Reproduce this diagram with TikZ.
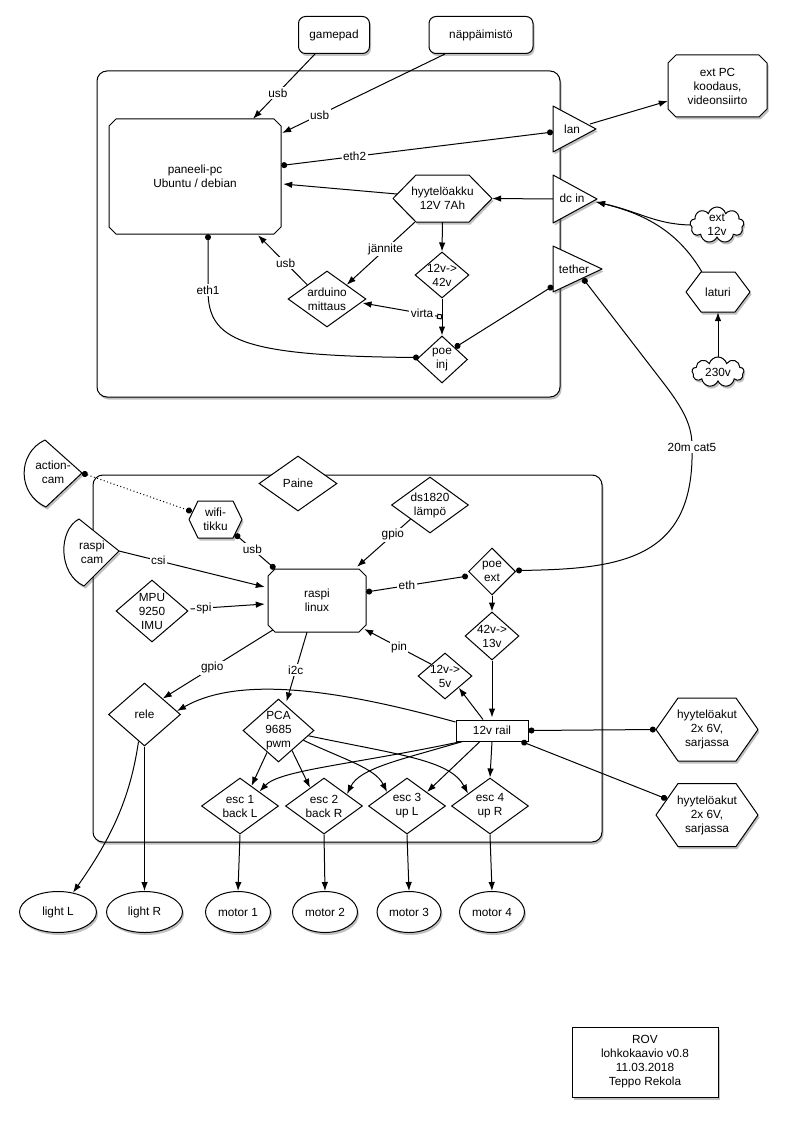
\documentclass[tikz,border=0pt]{standalone}
\usepackage{fontspec}
\setmainfont{Liberation Sans}
\usetikzlibrary{shapes.geometric,shapes.misc,shapes.symbols,arrows.meta,shadows,calc}
\tikzset{
  lw/.style={line width=1pt},
  txt/.style={font=\fontsize{11.8}{14}\selectfont, align=center, inner sep=1pt},
  shd/.style={drop shadow={shadow xshift=1.5pt, shadow yshift=-2.5pt, opacity=0.35, fill=black!70}},
  noshd/.style={},
  frame/.style={draw, lw, fill=white, rounded corners=10pt, shd, inner sep=0},
  rbox/.style={txt, draw, lw, fill=white, rounded corners=7pt, shd, inner sep=0},
  dia/.style={draw, lw, diamond, fill=white, inner sep=0},
  ell/.style={txt, draw, lw, ellipse, fill=white, shd, inner sep=0},
  cld/.style={draw, lw, cloud, cloud puffs=9, cloud ignores aspect, fill=white, shd, inner sep=0},
  tri/.style={lw, fill=white, shd, line join=round},
  hexbox/.style={txt, inner sep=0},
  arr/.style={lw, arrows={-Latex[length=9pt,width=6.5pt]}},
  dd/.style={lw, arrows={Circle[length=6pt]-Circle[length=6pt]}},
  elab/.style={txt, fill=white, inner sep=1.5pt},
}
\newcommand\hexshape[5]{%
  \draw[lw, fill=white, shd, line join=round] ({#1-#3/2},#2) -- ({#1-#3/2+#5},{#2-#4/2}) -- ({#1+#3/2-#5},{#2-#4/2}) -- ({#1+#3/2},#2) -- ({#1+#3/2-#5},{#2+#4/2}) -- ({#1-#3/2+#5},{#2+#4/2}) -- cycle;}
% chamfered box: cx, cy, w, h, chamfer, extra style
\newcommand\chamshape[6]{%
  \draw[lw, fill=white, line join=round, #6] ({#1-#3/2+#5},{#2-#4/2}) -- ({#1+#3/2-#5},{#2-#4/2}) -- ({#1+#3/2},{#2-#4/2+#5}) -- ({#1+#3/2},{#2+#4/2-#5}) -- ({#1+#3/2-#5},{#2+#4/2}) -- ({#1-#3/2+#5},{#2+#4/2}) -- ({#1-#3/2},{#2+#4/2-#5}) -- ({#1-#3/2},{#2-#4/2+#5}) -- cycle;}
\begin{document}
\begin{tikzpicture}[x=1pt,y=-1pt]
\fill[white] (0,0) rectangle (787,1121);
\useasboundingbox (0,0) rectangle (787,1121);

% frames
\node[frame, minimum width=463pt, minimum height=326pt] (topframe) at (328.5,234) {};
\node[frame, minimum width=509pt, minimum height=367pt] (botframe) at (347.5,658.5) {};

% ---------- top part nodes
\node[rbox, minimum width=71pt, minimum height=37pt] (gp) at (334,35) {gamepad};
\node[rbox, minimum width=104pt, minimum height=37pt] (kb) at (481,35) {näppäimistö};
\chamshape{195}{176.5}{172}{115}{7}{noshd}
\node[hexbox, minimum width=172pt, minimum height=115pt] (pc) at (195,176.5) {paneeli-pc\\Ubuntu / debian};
\chamshape{717.5}{86}{99}{62}{8}{shd}
\node[hexbox, minimum width=99pt, minimum height=62pt] (extpc) at (717.5,86) {ext PC\\koodaus,\\videonsiirto};

\draw[tri] (553,106) -- (596,129) -- (553,152) -- cycle;
\node[txt] (lan) at (572,129) {lan};
\draw[tri] (553,175) -- (597,199) -- (553,223) -- cycle;
\node[txt] (dcin) at (572,198) {dc in};
\draw[tri] (553,246) -- (602,269) -- (553,292) -- cycle;
\node[txt] (tether) at (574,269) {tether};
\coordinate (lanW) at (553,132);
\coordinate (lanE) at (590,124);
\coordinate (dcW) at (553,199);
\coordinate (dcTip) at (596,202);
\coordinate (tetW) at (553,286);
\coordinate (tetS) at (583,278.5);

\hexshape{442.5}{198.5}{99}{47}{23}
\node[hexbox, minimum width=99pt, minimum height=47pt] (hy) at (442.5,198.5) {hyytelöakku\\12V 7Ah};
\node[dia, minimum width=54pt, minimum height=46pt, label={[txt]center:{12v->\\42v}}] (c1242) at (442,275) {};
\node[dia, minimum width=78pt, minimum height=56pt, label={[txt]center:{arduino\\mittaus}}] (ard) at (327,299) {};
\node[dia, minimum width=51pt, minimum height=47pt, label={[txt]center:{poe\\inj}}] (poeinj) at (442,359.5) {};

\node[cld, minimum width=54pt, minimum height=36pt, label={[txt]center:{ext\\12v}}] (ext12) at (717,225) {};
\hexshape{718}{292}{64}{40}{15}
\node[hexbox, minimum width=64pt, minimum height=40pt] (laturi) at (718,292) {laturi};
\node[cld, minimum width=52pt, minimum height=30pt, label={[txt]center:230v}] (v230) at (718,372) {};

% ---------- lower part nodes
\draw[tri] (82,473) -- (45,440) .. controls (17,453) and (17,494) .. (46,507) -- cycle;
\node[txt] (actcam) at (53,472) {action-\\cam};
\coordinate (actApex) at (82,473);
\draw[tri] (119,551) -- (79,519) .. controls (58,530) and (58,574) .. (84,586) -- cycle;
\node[txt] (rcam) at (92,552) {raspi\\cam};
\coordinate (rcamApex) at (119,551);

\hexshape{215.5}{519.5}{53}{37}{9}
\node[hexbox, minimum width=53pt, minimum height=37pt] (wifi) at (215.5,519.5) {wifi-\\tikku};
\node[dia, minimum width=78pt, minimum height=55pt, label={[txt]center:Paine}] (paine) at (298,483.5) {};
\node[dia, minimum width=77pt, minimum height=56pt, label={[txt]center:{ds1820\\lämpö}}] (ds) at (430,505) {};
\chamshape{317}{600.5}{98}{63}{7}{noshd}
\node[hexbox, minimum width=98pt, minimum height=63pt] (raspi) at (317,600.5) {raspi\\linux};
\node[dia, minimum width=72pt, minimum height=62pt, label={[txt]center:{MPU\\9250\\IMU}}] (mpu) at (152,611) {};
\node[dia, minimum width=47pt, minimum height=47pt, label={[txt]center:{poe\\ext}}] (poeext) at (492,571.5) {};
\node[dia, minimum width=54pt, minimum height=48pt, label={[txt]center:{42v->\\13v}}] (c4213) at (492,636) {};
\node[dia, minimum width=54pt, minimum height=46pt, label={[txt]center:{12v->\\5v}}] (c125) at (445,676) {};
\node[txt, draw, lw, fill=white, minimum width=72pt, minimum height=21pt, inner sep=0] (rail) at (492,730.5) {12v rail};
\node[dia, minimum width=72pt, minimum height=63pt, label={[txt]center:rele}] (rele) at (144.5,714.5) {};
\node[dia, minimum width=71pt, minimum height=63pt, label={[txt]center:{PCA\\9685\\pwm}}] (pca) at (278.5,730.5) {};
\node[dia, minimum width=77pt, minimum height=56pt, label={[txt]center:{esc 1\\back L}}] (esc1) at (240,806) {};
\node[dia, minimum width=77pt, minimum height=56pt, label={[txt]center:{esc 2\\back R}}] (esc2) at (324,806) {};
\node[dia, minimum width=77pt, minimum height=56pt, label={[txt]center:{esc 3\\up L}}] (esc3) at (407,806) {};
\node[dia, minimum width=77pt, minimum height=56pt, label={[txt]center:{esc 4\\up R}}] (esc4) at (490,806) {};

\hexshape{707}{729.5}{102}{63}{22}
\node[hexbox, minimum width=102pt, minimum height=63pt] (hyy1) at (707,729.5) {hyytelöakut\\2x 6V,\\sarjassa};
\hexshape{707}{815}{102}{63}{22}
\node[hexbox, minimum width=102pt, minimum height=63pt] (hyy2) at (707,815) {hyytelöakut\\2x 6V,\\sarjassa};

\node[ell, minimum width=77pt, minimum height=41pt] (lightL) at (58,912) {light L};
\node[ell, minimum width=76pt, minimum height=41pt] (lightR) at (144.5,912) {light R};
\node[ell, minimum width=65pt, minimum height=41pt] (motor1) at (238,912) {motor 1};
\node[ell, minimum width=65pt, minimum height=41pt] (motor2) at (325,912) {motor 2};
\node[ell, minimum width=64pt, minimum height=41pt] (motor3) at (409,912) {motor 3};
\node[ell, minimum width=65pt, minimum height=41pt] (motor4) at (492,912) {motor 4};

\node[txt, draw, lw, fill=white, shd, minimum width=146pt, minimum height=70pt] (title) at (645,1062) {ROV\\lohkokaavio v0.8\\11.03.2018\\Teppo Rekola};

% ---------- top connectors
\draw[arr] ($(gp.south)+(-19,0)$) -- node[elab,pos=.6]{usb} ($(pc.north)+(58,0)$);
\draw[arr] ($(kb.south)+(-36,0)$) -- node[elab,pos=.77]{usb} ($(pc.east)+(1,-43.5)$);
\draw[dd] ($(pc.east)+(0,-11)$) -- node[elab,pos=.27]{eth2} (lanW);
\draw[arr] (lanE) -- ($(extpc.west)+(0,15)$);
\draw[arr] (dcW) -- (hy.east);
\draw[arr] ($(hy.west)+(4,-4.5)$) -- ($(pc.east)+(2,7.5)$);
\draw[arr] (hy.south) -- (c1242.north);
\draw[arr] ($(hy.south west)+(22,0)$) -- node[elab,pos=.43]{jännite} (ard.north east);
\draw[arr] (ard.north west) -- node[elab,pos=.44]{usb} ($(pc.south)+(63,1)$);
\draw[lw, arrows={Square[open,length=5pt]-Latex[length=9pt,width=6.5pt]}] ($(c1242.south)+(0,18.5)$) -- node[elab,pos=.25]{virta} ($(ard.east)+(-4,4)$);
\draw[arr] (c1242.south) -- (poeinj.north);
\draw[dd] ($(pc.south)+(13,0)$) -- ($(pc.south)+(13,56)$) node[elab]{eth1} .. controls (208,340) and (240,356) .. ($(poeinj.west)+(3,-2)$);
\draw[dd] (poeinj.north east) -- (tetW);
\draw[arr] (ext12.west) .. controls (655,224) and (640,212) .. (dcTip);
\draw[arr] ($(laturi.north west)+(16,0)$) .. controls (680,235) and (650,215) .. (dcTip);
\draw[arr] (v230.north) -- (laturi.south);
\draw[dd] (tetS) -- (665,385) .. controls (688,415) and (692,430) .. (692,447) node[elab]{20m cat5} .. controls (695,560) and (620,569) .. ($(poeext.east)+(0,-1)$);

% ---------- lower connectors
\draw[lw, dash pattern=on 1pt off 2.5pt, arrows={Circle[length=6pt]-Circle[length=6pt]}] (actApex) -- ($(wifi.west)+(3,-8)$);
\draw[dd] ($(wifi.south east)+(-7,-4)$) -- node[elab,pos=.43]{usb} ($(raspi.north)+(-42,0)$);
\draw[arr] (rcamApex) -- node[elab,pos=.27]{csi} ($(raspi.west)+(-3,-13.5)$);
\draw[arr] ($(mpu.east)+(2,-2)$) -- node[elab,pos=.18]{spi} ($(raspi.west)+(-3,3.5)$);
\draw[arr] (ds.south west) -- node[elab,pos=.33]{gpio} ($(raspi.north)+(40,-2)$);
\draw[dd] ($(raspi.east)+(0,-8.5)$) -- node[elab,pos=.4]{eth} ($(poeext.west)+(0,4.5)$);
\draw[arr] (poeext.south) -- (c4213.north);
\draw[arr] (c4213.south) -- ($(rail.north)+(0,-2)$);
\draw[arr] ($(rail.north)+(-9,0)$) -- (c125.south east);
\draw[arr] (c125.north west) -- node[elab,pos=.48]{pin} ($(raspi.east)+(-2,28.5)$);
\draw[arr] ($(raspi.west)+(5,29.5)$) -- node[elab,pos=.55]{gpio} (rele.north east);
\draw[arr] ($(raspi.south)+(-10,0)$) -- node[elab,pos=.55]{i2c} ($(pca.north)+(8,3)$);
\draw[arr] ($(rail.west)+(0,-8.5)$) .. controls (340,690) and (240,675) .. ($(rele.east)+(-4,-3.5)$);
\draw[arr] ($(pca.south)+(-11.5,-10)$) -- ($(esc1.north)+(11.5,8.4)$);
\draw[arr] ($(pca.south)+(13.5,-12)$) -- ($(esc2.north)+(-14,10.2)$);
\draw[arr] ($(pca.east)+(-11,9.8)$) .. controls (345,760) and (375,768) .. ($(esc3.north)+(-20,14.5)$);
\draw[arr] ($(pca.east)+(-6,5.3)$) .. controls (400,755) and (450,760) .. ($(esc4.north)+(-22,16)$);
\draw[arr] ($(rail.south west)+(6,0)$) .. controls (350,765) and (280,770) .. ($(esc1.north)+(19.5,14)$);
\draw[arr] ($(rail.south west)+(7,0)$) .. controls (400,760) and (360,768) .. ($(esc2.north)+(23,16.5)$);
\draw[arr] ($(rail.south)+(-12,0)$) -- ($(esc3.north)+(20,14.5)$);
\draw[arr] (rail.south) -- (esc4.north);
\draw[dd] (rail.east) -- (hyy1.west);
\draw[dd] ($(rail.south east)+(-7,0)$) -- ($(hyy2.west)+(11,-16)$);
\draw[arr] ($(rele.south)+(-6,-5)$) .. controls (130,800) and (110,840) .. ($(lightL.north)+(15,1.6)$);
\draw[arr] (rele.south) -- (lightR.north);
\foreach \i in {1,2,3,4} {\draw[arr] (esc\i.south) -- (motor\i.north);}
\end{tikzpicture}
\end{document}
